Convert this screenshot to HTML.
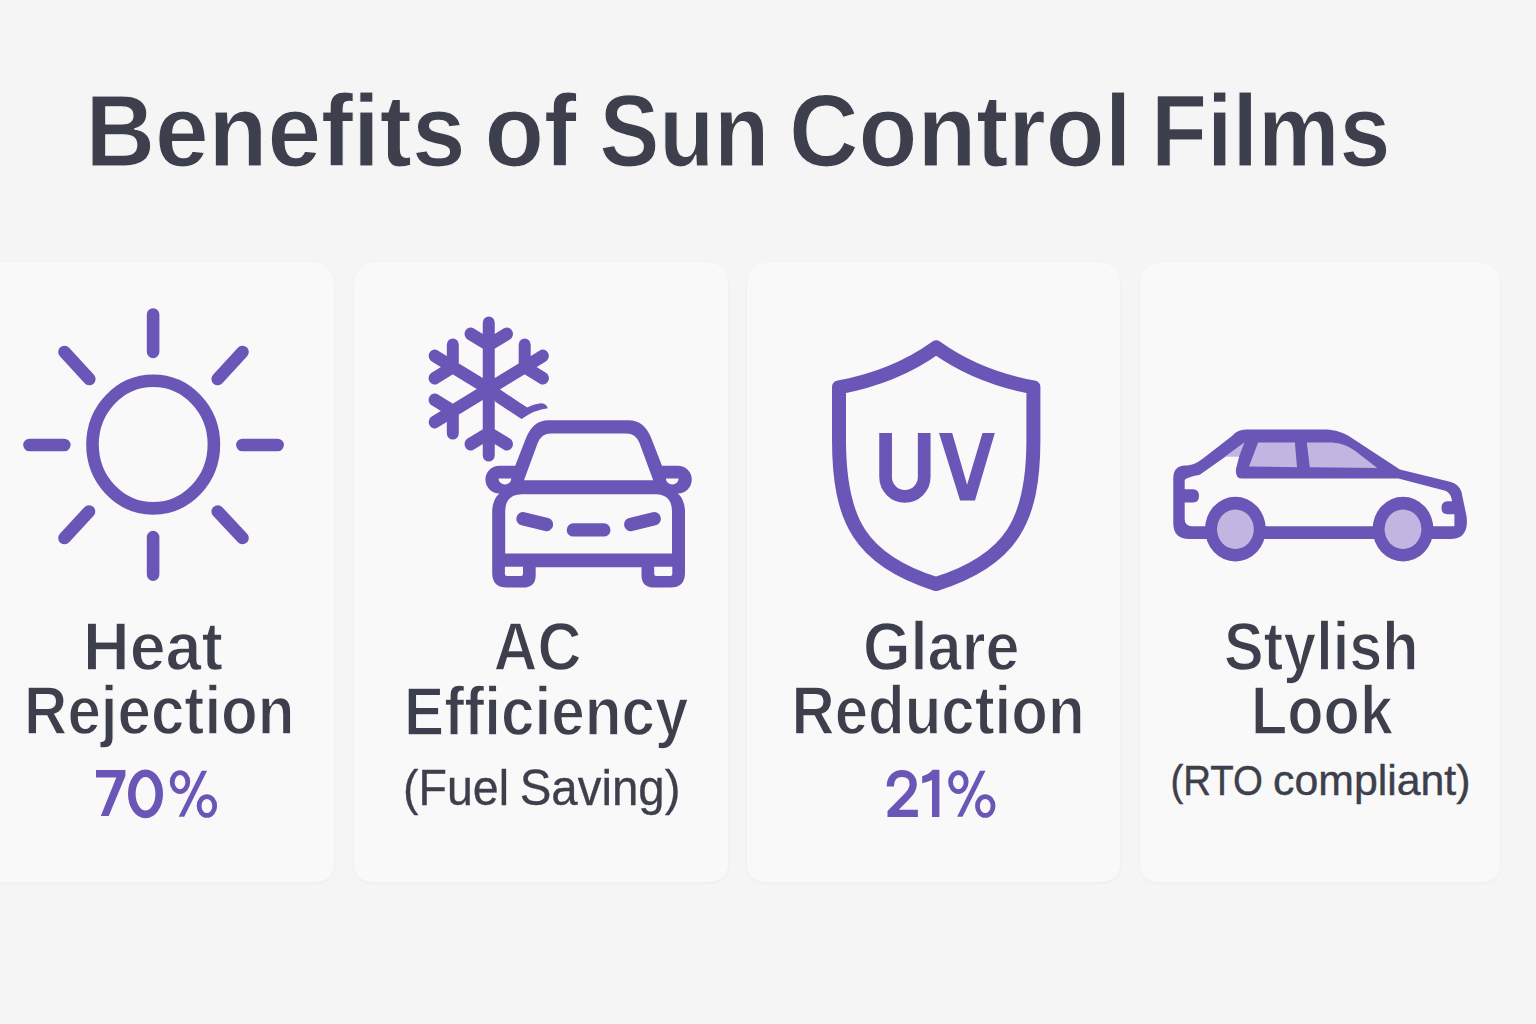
<!DOCTYPE html>
<html><head><meta charset="utf-8"><style>
html,body{margin:0;padding:0;background:#f5f5f5;width:1536px;height:1024px;overflow:hidden}
svg{display:block}
text{font-family:"Liberation Sans",sans-serif}
</style></head><body>
<svg width="1536" height="1024" viewBox="0 0 1536 1024">
<rect width="1536" height="1024" fill="#f5f5f5"/>
<defs><filter id="sh" x="-5%" y="-5%" width="110%" height="110%"><feDropShadow dx="0" dy="1" stdDeviation="1.5" flood-color="#000" flood-opacity="0.045"/></filter></defs><g filter="url(#sh)"><path d="M-16 262H310Q334 262 334 286V862Q334 882 314 882H-20Q-40 882 -40 862V286Q-40 262 -16 262Z" fill="#f9f9f9"/><path d="M378 262H704Q728 262 728 286V862Q728 882 708 882H374Q354 882 354 862V286Q354 262 378 262Z" fill="#f9f9f9"/><path d="M771 262H1096Q1120 262 1120 286V862Q1120 882 1100 882H767Q747 882 747 862V286Q747 262 771 262Z" fill="#f9f9f9"/><path d="M1164 262H1476Q1500 262 1500 286V862Q1500 882 1480 882H1160Q1140 882 1140 862V286Q1140 262 1164 262Z" fill="#f9f9f9"/></g>
<ellipse cx="153.2" cy="444.6" rx="60.7" ry="63.8" fill="none" stroke="#6a56b6" stroke-width="12.6"/>
<path d="M153.1 314.5L153.1 351.9 M153.1 537.1L153.1 574.6 M29.5 445.0L64.3 445.0 M242.4 445.0L277.6 445.0 M64.5 352.0L89.3 379.0 M242.5 352.0L217.7 379.0 M64.5 538.0L89.0 511.5 M242.5 538.0L217.7 511.5" fill="none" stroke="#6a56b6" stroke-width="12.6" stroke-linecap="round"/>
<path transform="translate(488.75 389.0) scale(1 1.06) translate(-488.75 -389.0)" d="M488.75 389.00L488.75 326.60 M488.75 347.50L470.56 337.00 M488.75 347.50L506.94 337.00 M488.75 389.00L542.79 357.80 M524.69 368.25L524.69 347.25 M524.69 368.25L542.88 378.75 M488.75 389.00L488.75 451.40 M488.75 430.50L506.94 441.00 M488.75 430.50L470.56 441.00 M488.75 389.00L434.71 420.20 M452.81 409.75L452.81 430.75 M452.81 409.75L434.62 399.25 M488.75 389.00L434.71 357.80 M452.81 368.25L434.62 378.75 M452.81 368.25L452.81 347.25" fill="none" stroke="#6a56b6" stroke-width="12" stroke-linecap="round" stroke-linejoin="round"/>
<path d="M488.75 389.00L524.4 413.3" fill="none" stroke="#6a56b6" stroke-width="12" stroke-linecap="butt"/>
<path d="M500.9 391.5L527.2 407.6Q535 403.5 541.4 403.2Q546.5 403.5 547.8 408.3Q535 409.5 521.6 419.1L495 401.5Z" fill="#6a56b6"/>
<path d="M588.60 420.25L548.40 420.25Q532.90 420.25 525.90 438.30L515.20 465.70L499.30 465.70A13.9 13.9 0 0 0 499.30 493.50Q493.00 499.00 492.20 510.00L492.20 573.00Q492.20 587.60 507.00 587.60L523.00 587.60Q535.70 587.60 535.70 575.00L535.70 567.30L588.60 567.30L641.50 567.30L641.50 575.00Q641.50 587.60 654.20 587.60L670.20 587.60Q685.00 587.60 685.00 573.00L685.00 510.00Q684.20 499.00 677.90 493.50A13.9 13.9 0 0 0 677.90 465.70L662.00 465.70L651.30 438.30Q644.30 420.25 628.80 420.25L588.60 420.25Z" fill="#6a56b6"/>
<path d="M588.60 433.40L551.00 433.40Q541.50 433.40 537.80 442.80L524.00 480.30L588.60 480.30L653.20 480.30L639.40 442.80Q635.70 433.40 626.20 433.40L588.60 433.40ZM588.60 494.30L522.00 494.30Q505.20 494.30 505.20 511.60L505.20 553.60L588.60 553.60L672.00 553.60L672.00 511.60Q672.00 494.30 655.20 494.30L588.60 494.30Z" fill="#f9f9f9"/>
<path d="M504.9 566.8H523V574.1Q523 576.1 521 576.1H506.9Q504.9 576.1 504.9 574.1Z M654.20 566.8H672.30V574.1Q672.30 576.1 670.30 576.1H656.20Q654.20 576.1 654.20 574.1Z M498.6 478.4H511.3A6.35 6 0 0 1 498.6 478.4Z M665.90 478.4H678.60A6.35 6 0 0 1 665.90 478.4Z" fill="#f9f9f9"/>
<path d="M523 518.8L546.5 524.5 M654.20 518.8L630.70 524.5 M573.4 529.9L603.8 529.9" fill="none" stroke="#6a56b6" stroke-width="13.4" stroke-linecap="round"/>
<path d="M936.2 347.4Q895 377 839 387.4V440C839 520 860 560 936 584C1012 560 1033.4 520 1033.4 440V387.4Q977.4 377 936.2 347.4Z" fill="none" stroke="#6a56b6" stroke-width="14" stroke-linejoin="round"/>
<path d="M885.6 433.1V477A19.3 19.3 0 0 0 924.2 477V433.1" fill="none" stroke="#6a56b6" stroke-width="12.7"/>
<path d="M939 433.1H952.2L967.1 484.8L982.5 433.1H994.8L975 500.6H960.1Z" fill="#6a56b6"/>
<path d="M1244 429.4H1322.7C1332 429.4 1340 431 1348 435.5L1399.9 469.5L1451 482Q1459 484.5 1461.5 492L1466.5 516Q1469.5 539.1 1450 539.1H1189.2Q1173.3 539.1 1173.3 523V478Q1173.3 466 1185 465.5C1192 465.5 1197 463 1203 458.5L1232 436Q1237 429.4 1246 429.4Z" fill="#6a56b6"/>
<path d="M1184.7 519V502.5H1193Q1199 502.5 1199 495.8Q1199 489.2 1193 489.2H1184.7V480Q1186 477.5 1199.8 474.8L1226 456.3H1239.2L1236 469Q1235 478.6 1242 478.6H1398.4L1445.3 490.7Q1451 493 1452.1 501.3H1447.5Q1441.5 501.3 1441.5 507.8Q1441.5 514.2 1447.5 514.2H1454.4V526.3H1192Q1184.7 526.3 1184.7 519Z" fill="#f9f9f9"/>
<path d="M1225.5 456.3L1244.5 442.2L1239.2 456.3Z M1249 466.5L1258.1 442.6H1294.9L1297 467.2Z M1306.8 442.6H1328C1339 442.6 1347 445 1356 451.5L1377.2 468L1309.8 467.2Z" fill="#c3b5e2"/>
<ellipse cx="1235.4" cy="529.1" rx="30.4" ry="32.4" fill="#6a56b6"/>
<ellipse cx="1235.4" cy="529.3" rx="18.4" ry="19.7" fill="#c3b5e2"/>
<ellipse cx="1403.0" cy="529.1" rx="30.4" ry="32.4" fill="#6a56b6"/>
<ellipse cx="1403.0" cy="529.3" rx="18.4" ry="19.7" fill="#c3b5e2"/>
<ellipse cx="180.0" cy="782.1" rx="7.8" ry="9.5" fill="none" stroke="#6a56b6" stroke-width="4.8"/>
<ellipse cx="206.90" cy="806.00" rx="7.8" ry="9.45" fill="none" stroke="#6a56b6" stroke-width="4.8"/>
<path d="M201.60 770.80H207.10L184.20 816.70H178.70Z" fill="#6a56b6"/>
<ellipse cx="958.35" cy="782.1" rx="7.8" ry="9.5" fill="none" stroke="#6a56b6" stroke-width="4.8"/>
<ellipse cx="985.25" cy="806.00" rx="7.8" ry="9.45" fill="none" stroke="#6a56b6" stroke-width="4.8"/>
<path d="M979.95 770.80H985.45L962.55 816.70H957.05Z" fill="#6a56b6"/>
<path d="M96 769.9H125.4V776L108.7 816.1H100.8L116.3 777.6H96Z" fill="#6a56b6"/>
<ellipse cx="145.5" cy="793.8" rx="13.7" ry="20.55" fill="none" stroke="#6a56b6" stroke-width="7.6"/>
<path d="M890.3 786.5C890.3 778 895.5 773.5 902.2 773.5C909.2 773.5 913.2 778.3 913.2 784.2C913.2 789 911 792.2 907 796.2L891.1 812.5V813.4H917.9" fill="none" stroke="#6a56b6" stroke-width="7.2" stroke-linejoin="miter"/>
<path d="M932.6 769.8H939.4V816.9H932V780Q928 781.8 922.2 783.2V776.3Q929 774.3 932.6 769.8Z" fill="#6a56b6"/>
<text x="85.50" y="166.40" font-size="102.03" font-weight="700" fill="#3e3f4c" stroke="#f5f5f5" stroke-width="1.20" textLength="380.00" lengthAdjust="spacingAndGlyphs">Benefits</text><text x="484.50" y="166.40" font-size="102.03" font-weight="700" fill="#3e3f4c" stroke="#f5f5f5" stroke-width="1.20" textLength="92.00" lengthAdjust="spacingAndGlyphs">of</text><text x="599.50" y="166.40" font-size="102.03" font-weight="700" fill="#3e3f4c" stroke="#f5f5f5" stroke-width="1.20" textLength="169.50" lengthAdjust="spacingAndGlyphs">Sun</text><text x="789.00" y="166.40" font-size="102.03" font-weight="700" fill="#3e3f4c" stroke="#f5f5f5" stroke-width="1.20" textLength="342.50" lengthAdjust="spacingAndGlyphs">Control</text><text x="1151.00" y="166.40" font-size="102.03" font-weight="700" fill="#3e3f4c" stroke="#f5f5f5" stroke-width="1.20" textLength="239.50" lengthAdjust="spacingAndGlyphs">Films</text><text x="83.00" y="669.51" font-size="67.77" font-weight="700" fill="#3e3f4c" stroke="#f9f9f9" stroke-width="1.43" textLength="140.00" lengthAdjust="spacingAndGlyphs">Heat</text><text x="24.00" y="734.31" font-size="67.77" font-weight="700" fill="#3e3f4c" stroke="#f9f9f9" stroke-width="1.43" textLength="270.50" lengthAdjust="spacingAndGlyphs">Rejection</text><text x="493.50" y="669.51" font-size="67.77" font-weight="700" fill="#3e3f4c" stroke="#f9f9f9" stroke-width="1.43" textLength="88.00" lengthAdjust="spacingAndGlyphs">AC</text><text x="404.00" y="734.51" font-size="67.77" font-weight="700" fill="#3e3f4c" stroke="#f9f9f9" stroke-width="1.43" textLength="284.50" lengthAdjust="spacingAndGlyphs">Efficiency</text><text x="403.00" y="805.34" font-size="50.54" font-weight="400" fill="#3e3f4c" stroke="#3e3f4c" stroke-width="0.33" textLength="106.00" lengthAdjust="spacingAndGlyphs">(Fuel</text><text x="519.75" y="805.34" font-size="50.54" font-weight="400" fill="#3e3f4c" stroke="#3e3f4c" stroke-width="0.33" textLength="160.75" lengthAdjust="spacingAndGlyphs">Saving)</text><text x="863.00" y="669.91" font-size="67.77" font-weight="700" fill="#3e3f4c" stroke="#f9f9f9" stroke-width="1.43" textLength="156.50" lengthAdjust="spacingAndGlyphs">Glare</text><text x="791.50" y="734.11" font-size="67.77" font-weight="700" fill="#3e3f4c" stroke="#f9f9f9" stroke-width="1.43" textLength="293.00" lengthAdjust="spacingAndGlyphs">Reduction</text><text x="1224.00" y="669.91" font-size="67.77" font-weight="700" fill="#3e3f4c" stroke="#f9f9f9" stroke-width="1.43" textLength="194.50" lengthAdjust="spacingAndGlyphs">Stylish</text><text x="1251.00" y="734.01" font-size="67.77" font-weight="700" fill="#3e3f4c" stroke="#f9f9f9" stroke-width="1.43" textLength="142.00" lengthAdjust="spacingAndGlyphs">Look</text><text x="1170.50" y="795.19" font-size="42.70" font-weight="400" fill="#3e3f4c" stroke="#3e3f4c" stroke-width="0.42" textLength="92.50" lengthAdjust="spacingAndGlyphs">(RTO</text><text x="1273.00" y="795.19" font-size="42.70" font-weight="400" fill="#3e3f4c" stroke="#3e3f4c" stroke-width="0.42" textLength="197.50" lengthAdjust="spacingAndGlyphs">compliant)</text>
</svg>
</body></html>
